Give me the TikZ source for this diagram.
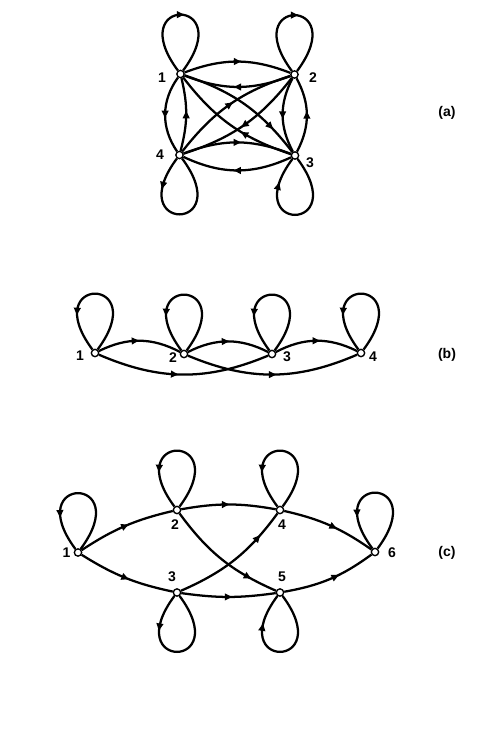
\documentclass[tikz,border=0pt]{standalone}
\usepackage{fontspec}
\setmainfont{Liberation Sans}
\usetikzlibrary{calc,arrows.meta,decorations.markings}

\tikzset{
  vertex/.style={circle,draw,fill=white,inner sep=0pt,minimum size=5.5pt,line width=1pt},
  lbl/.style={inner sep=0pt,font=\bfseries\fontsize{10.5}{12}\selectfont},
  edge/.style={line width=1.7pt},
  midarrow/.style={postaction={decorate},decoration={markings,
    mark=at position #1 with {\arrow[xshift=2.8pt]{Triangle[length=5.6pt,width=5pt]}}}},
  midarrow/.default=0.5
}

% a loop leaving node #2 towards offset #3 and returning from offset #4
\newcommand{\selfloop}[4][0.5]{%
  \draw[edge,midarrow=#1] (#2) .. controls ($(#2)+#3$) and ($(#2)+#4$) .. (#2);}

\begin{document}
\begin{tikzpicture}[x=0.75pt,y=-0.75pt]
\path[use as bounding box,fill=white] (0,0) rectangle (490,729);

% ---------------- (a) complete graph on four vertices ----------------
\node[vertex] (a1) at (180.5,74) {};
\node[vertex] (a2) at (294.5,74.5) {};
\node[vertex] (a3) at (295,155.5) {};
\node[vertex] (a4) at (179.5,155) {};
\node[lbl] (la1) at (162,78) {1};
\node[lbl] (la2) at (313,78) {2};
\node[lbl] (la3) at (310,163) {3};
\node[lbl] (la4) at (160,155) {4};
\node[lbl] (tagA) at (447,113) {(a)};

\selfloop[0.5]{a1}{(-58,-78)}{(58,-78)}
\selfloop[0.5]{a2}{(-58,-78)}{(58,-78)}
\selfloop[0.22]{a4}{(-58,78)}{(58,78)}
\selfloop[0.78]{a3}{(58,78)}{(-58,78)}

\draw[edge,midarrow] (a1) to[bend left=21] (a2);
\draw[edge,midarrow] (a2) to[bend left=21] (a1);
\draw[edge,midarrow] (a4) to[bend left=21] (a3);
\draw[edge,midarrow] (a3) to[bend left=25] (a4);
\draw[edge,midarrow] (a1) to[bend right=35] (a4);
\draw[edge,midarrow] (a4) to[bend right=14] (a1);
\draw[edge,midarrow] (a2) to[bend right=28] (a3);
\draw[edge,midarrow] (a3) to[bend right=28] (a2);
\draw[edge,midarrow=0.75] (a1) to[bend left=17] (a3);
\draw[edge,midarrow=0.38] (a3) to[bend left=17] (a1);
\draw[edge,midarrow] (a2) to[bend left=17] (a4);
\draw[edge,midarrow] (a4) to[bend left=17] (a2);

% ---------------- (b) chain of four vertices ----------------
\node[vertex] (b1) at (95,353) {};
\node[vertex] (b2) at (184,354) {};
\node[vertex] (b3) at (272,354) {};
\node[vertex] (b4) at (361,353) {};
\node[lbl] (lb1) at (80,356) {1};
\node[lbl] (lb2) at (173,358) {2};
\node[lbl] (lb3) at (287,357) {3};
\node[lbl] (lb4) at (373,357) {4};
\node[lbl] (tagB) at (447,355) {(b)};

\selfloop[0.7]{b1}{(58,-78)}{(-58,-78)}
\selfloop[0.7]{b2}{(58,-78)}{(-58,-78)}
\selfloop[0.7]{b3}{(58,-78)}{(-58,-78)}
\selfloop[0.7]{b4}{(58,-78)}{(-58,-78)}

\draw[edge,midarrow=0.45] (b1) to[bend left=27] (b2);
\draw[edge,midarrow=0.47] (b2) to[bend left=27] (b3);
\draw[edge,midarrow=0.5] (b3) to[bend left=27] (b4);
\draw[edge,midarrow=0.45] (b1) to[bend right=23] (b3);
\draw[edge,midarrow=0.5] (b2) to[bend right=23] (b4);

% ---------------- (c) six vertices ----------------
\node[vertex] (c1) at (78,552.5) {};
\node[vertex] (c2) at (177,510) {};
\node[vertex] (c3) at (177,592.5) {};
\node[vertex] (c4) at (280,510) {};
\node[vertex] (c5) at (280,592.5) {};
\node[vertex] (c6) at (375,552) {};
\node[lbl] (lc1) at (66.5,553) {1};
\node[lbl] (lc2) at (175,525) {2};
\node[lbl] (lc3) at (172,577) {3};
\node[lbl] (lc4) at (282,525) {4};
\node[lbl] (lc5) at (282,577) {5};
\node[lbl] (lc6) at (392,553) {6};
\node[lbl] (tagC) at (447,553) {(c)};

\selfloop[0.72]{c1}{(58,-78)}{(-58,-78)}
\selfloop[0.7]{c2}{(58,-78)}{(-58,-78)}
\selfloop[0.7]{c4}{(58,-78)}{(-58,-78)}
\selfloop[0.72]{c6}{(58,-78)}{(-58,-78)}
\selfloop[0.25]{c3}{(-58,78)}{(58,78)}
\selfloop[0.75]{c5}{(58,78)}{(-58,78)}

\draw[edge,midarrow=0.5] (c1) to[bend left=10] (c2);
\draw[edge,midarrow=0.5] (c1) to[bend right=10] (c3);
\draw[edge,midarrow=0.47] (c2) to[bend left=10] (c4);
\draw[edge,midarrow=0.5] (c3) to[bend right=8] (c5);
\draw[edge,midarrow=0.75] (c2) to[bend right=15] (c5);
\draw[edge,midarrow=0.75] (c3) to[bend right=15] (c4);
\draw[edge,midarrow=0.54] (c4) to[bend left=11] (c6);
\draw[edge,midarrow=0.56] (c5) to[bend right=13] (c6);
\end{tikzpicture}
\end{document}
